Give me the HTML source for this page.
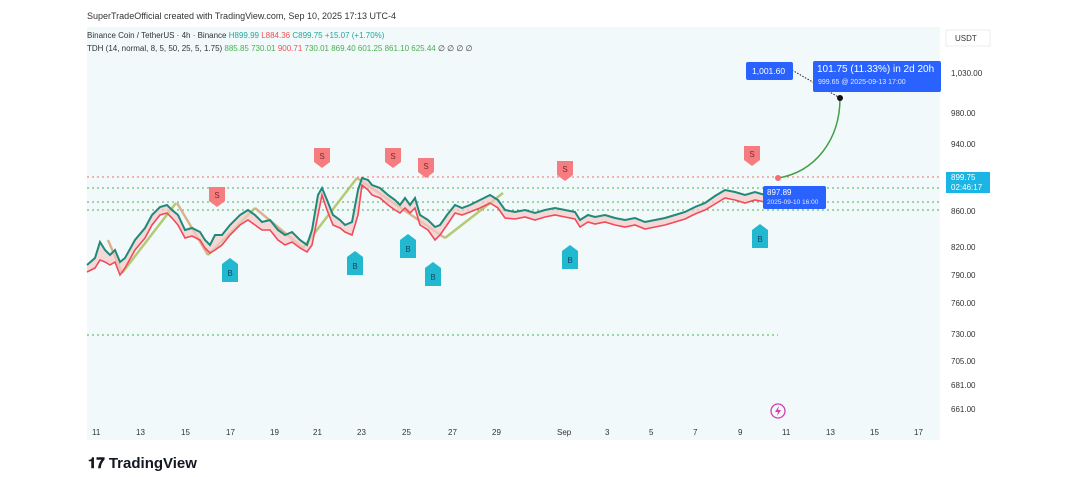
<!DOCTYPE html><html><head><meta charset="utf-8"><style>
body{margin:0;width:1080px;height:477px;background:#fff;font-family:"Liberation Sans",sans-serif;overflow:hidden;position:relative}
.t{position:absolute;white-space:nowrap}
</style></head><body>
<div class="t" style="left:87px;top:11px;font-size:9px;color:#333">SuperTradeOfficial created with TradingView.com, Sep 10, 2025 17:13 UTC-4</div>
<svg width="1080" height="477" style="position:absolute;left:0;top:0">
<rect x="87" y="27" width="907" height="413" fill="#f1f9fb"/>
<rect x="940" y="27" width="54" height="413" fill="#fff"/>
<g stroke-dasharray="2,3" stroke-width="1">
<line x1="87" y1="177" x2="940" y2="177" stroke="#f26d6d"/>
<line x1="87" y1="188" x2="940" y2="188" stroke="#4caf50"/>
<line x1="87" y1="202" x2="940" y2="202" stroke="#4caf50"/>
<line x1="87" y1="210" x2="940" y2="210" stroke="#4caf50"/>
<line x1="87" y1="335" x2="778" y2="335" stroke="#4caf50"/>
</g>
<polyline fill="none" stroke="#a9c25a" stroke-width="2.5" opacity=".85" points="122,273 176,203"/>
<polyline fill="none" stroke="#d4a77a" stroke-width="2.5" opacity=".85" points="108,240 122,273"/>
<polyline fill="none" stroke="#d4a77a" stroke-width="2.5" opacity=".85" points="177,203 208,255"/>
<polyline fill="none" stroke="#a9c25a" stroke-width="2.5" opacity=".85" points="208,255 255,208"/>
<polyline fill="none" stroke="#d4a77a" stroke-width="2.5" opacity=".85" points="255,208 303,248"/>
<polyline fill="none" stroke="#a9c25a" stroke-width="2.5" opacity=".85" points="303,248 357,178"/>
<polyline fill="none" stroke="#d4a77a" stroke-width="2.5" opacity=".85" points="357,178 445,238"/>
<polyline fill="none" stroke="#a9c25a" stroke-width="2.5" opacity=".85" points="445,238 503,193"/>
<polygon fill="#f7c9c9" opacity=".7" points="87,265 95,258 100,242 105,250 110,255 115,250 120,262 125,258 135,240 145,228 152,215 160,207 167,205 172,210 178,215 185,230 192,228 200,232 205,240 210,245 215,235 222,235 230,225 240,215 248,210 255,215 262,222 270,220 278,230 285,235 292,232 300,240 307,245 312,230 318,195 322,188 327,200 333,215 340,220 345,225 352,222 358,190 362,178 368,180 372,185 380,188 388,195 395,200 400,205 405,198 410,205 415,198 420,215 428,220 435,227 440,225 447,215 455,205 462,208 470,205 480,200 490,195 498,200 505,210 515,212 525,210 535,213 545,210 555,208 565,210 575,212 580,220 588,215 595,217 605,215 615,218 625,220 635,218 645,222 655,220 665,218 675,215 685,212 695,207 705,203 715,196 725,190 735,192 745,195 755,192 765,195 775,190 775,197 765,202 755,200 745,203 735,200 725,198 715,204 705,210 695,214 685,219 675,222 665,225 655,227 645,229 635,225 625,227 615,225 605,222 595,224 588,222 580,227 575,219 565,217 555,215 545,217 535,220 525,217 515,219 505,218 498,208 490,203 480,208 470,212 462,215 455,213 447,225 440,235 435,240 428,230 420,225 415,208 410,213 405,208 400,213 395,210 388,205 380,198 372,195 368,190 362,185 358,215 352,235 345,232 340,228 333,225 327,210 322,195 318,215 312,245 307,252 300,248 292,242 285,245 278,240 270,230 262,230 255,225 248,220 240,225 230,235 222,245 215,250 210,253 205,248 200,240 192,236 185,238 178,225 172,218 167,213 160,215 152,225 145,238 135,250 125,268 120,275 115,262 110,265 105,262 100,260 95,268 87,272"/>
<polyline fill="none" stroke="#1d8a7a" stroke-width="2" points="87,265 95,258 100,242 105,250 110,255 115,250 120,262 125,258 135,240 145,228 152,215 160,207 167,205 172,210 178,215 185,230 192,228 200,232 205,240 210,245 215,235 222,235 230,225 240,215 248,210 255,215 262,222 270,220 278,230 285,235 292,232 300,240 307,245 312,230 318,195 322,188 327,200 333,215 340,220 345,225 352,222 358,190 362,178 368,180 372,185 380,188 388,195 395,200 400,205 405,198 410,205 415,198 420,215 428,220 435,227 440,225 447,215 455,205 462,208 470,205 480,200 490,195 498,200 505,210 515,212 525,210 535,213 545,210 555,208 565,210 575,212 580,220 588,215 595,217 605,215 615,218 625,220 635,218 645,222 655,220 665,218 675,215 685,212 695,207 705,203 715,196 725,190 735,192 745,195 755,192 765,195 775,190"/>
<polyline fill="none" stroke="#ef4b5b" stroke-width="1.6" points="87,272 95,268 100,260 105,262 110,265 115,262 120,275 125,268 135,250 145,238 152,225 160,215 167,213 172,218 178,225 185,238 192,236 200,240 205,248 210,253 215,250 222,245 230,235 240,225 248,220 255,225 262,230 270,230 278,240 285,245 292,242 300,248 307,252 312,245 318,215 322,195 327,210 333,225 340,228 345,232 352,235 358,215 362,185 368,190 372,195 380,198 388,205 395,210 400,213 405,208 410,213 415,208 420,225 428,230 435,240 440,235 447,225 455,213 462,215 470,212 480,208 490,203 498,208 505,218 515,219 525,217 535,220 545,217 555,215 565,217 575,219 580,227 588,222 595,224 605,222 615,225 625,227 635,225 645,229 655,227 665,225 675,222 685,219 695,214 705,210 715,204 725,198 735,200 745,203 755,200 765,202 775,197"/>
<path d="M778,178 C815,172 840,140 840,98" fill="none" stroke="#43a047" stroke-width="1.5"/>
<line x1="792" y1="70" x2="840" y2="98" stroke="#222" stroke-dasharray="1.5,1.5"/>
<circle cx="778" cy="178" r="3" fill="#f26d6d"/><circle cx="840" cy="98" r="3" fill="#111"/>
<g font-size="8" fill="#7a2a2a" text-anchor="middle">
<g fill="#f77c80"><path d="M314,148h16v14l-8,6l-8,-6z"/><path d="M385,148h16v14l-8,6l-8,-6z"/><path d="M418,158h16v14l-8,6l-8,-6z"/><path d="M209,187h16v14l-8,6l-8,-6z"/><path d="M557,161h16v14l-8,6l-8,-6z"/><path d="M744,146h16v14l-8,6l-8,-6z"/></g>
<text x="322" y="159">S</text><text x="393" y="159">S</text><text x="426" y="169">S</text><text x="217" y="198">S</text><text x="565" y="172">S</text><text x="752" y="157">S</text>
</g>
<g font-size="8" fill="#0d4a6a" text-anchor="middle">
<g fill="#22b8cf"><path d="M222,264l8,-6l8,6v18h-16z"/><path d="M347,257l8,-6l8,6v18h-16z"/><path d="M400,240l8,-6l8,6v18h-16z"/><path d="M425,268l8,-6l8,6v18h-16z"/><path d="M562,251l8,-6l8,6v18h-16z"/><path d="M752,230l8,-6l8,6v18h-16z"/></g>
<text x="230" y="276">B</text><text x="355" y="269">B</text><text x="408" y="252">B</text><text x="433" y="280">B</text><text x="570" y="263">B</text><text x="760" y="242">B</text>
</g>
<rect x="746" y="62" width="47" height="18" rx="2" fill="#2962ff"/>
<rect x="813" y="61" width="128" height="31" rx="2" fill="#2962ff"/>
<rect x="763" y="186" width="63" height="23" rx="2" fill="#2962ff"/>
<rect x="946" y="30" width="44" height="16" fill="#fff" stroke="#eee"/>
<rect x="946" y="172" width="44" height="21" fill="#1ab5e5"/>
<circle cx="778" cy="411" r="7" fill="none" stroke="#d63cb1" stroke-width="1.3"/>
<path d="M779,406 l-4,6 h3 l-1,4 l4,-6 h-3z" fill="#d63cb1"/>
</svg>
<div class="t" style="left:87px;top:31px;font-size:8px;color:#333">Binance Coin / TetherUS · 4h · Binance <span style="color:#26a69a">H899.99</span> <span style="color:#ef5350">L884.36</span> <span style="color:#26a69a">C899.75 +15.07 (+1.70%)</span></div>
<div class="t" style="left:87px;top:44px;font-size:8px;color:#333">TDH (14, normal, 8, 5, 50, 25, 5, 1.75) <span style="color:#4caf50">885.85 730.01</span> <span style="color:#ef5350">900.71</span> <span style="color:#4caf50">730.01 869.40 601.25 861.10 625.44</span> ∅ ∅ ∅ ∅</div>
<div class="t" style="left:752px;top:66px;font-size:8.5px;color:#fff">1,001.60</div>
<div class="t" style="left:817px;top:64px;font-size:10px;color:#fff">101.75 (11.33%) in 2d 20h</div>
<div class="t" style="left:818px;top:79px;font-size:7px;color:#dfe7ff">999.65 @ 2025-09-13 17:00</div>
<div class="t" style="left:767px;top:188px;font-size:8px;color:#fff">897.89</div>
<div class="t" style="left:767px;top:199px;font-size:6.5px;color:#dfe7ff">2025-09-10 16:00</div>
<div class="t" style="left:955px;top:34px;font-size:8px;color:#333">USDT</div>
<div class="t" style="left:951px;top:173px;font-size:8px;color:#fff;line-height:10px">899.75<br>02:46:17</div>
<div style="position:absolute;left:951px;top:0;font-size:8px;color:#333;line-height:1">
<div class="t" style="top:70px">1,030.00</div><div class="t" style="top:110px">980.00</div><div class="t" style="top:141px">940.00</div><div class="t" style="top:208px">860.00</div><div class="t" style="top:244px">820.00</div><div class="t" style="top:272px">790.00</div><div class="t" style="top:300px">760.00</div><div class="t" style="top:331px">730.00</div><div class="t" style="top:358px">705.00</div><div class="t" style="top:382px">681.00</div><div class="t" style="top:406px">661.00</div></div>
<div style="position:absolute;left:0;top:428px;font-size:8px;color:#333">
<div class="t" style="left:92px">11</div><div class="t" style="left:136px">13</div><div class="t" style="left:181px">15</div><div class="t" style="left:226px">17</div><div class="t" style="left:270px">19</div><div class="t" style="left:313px">21</div><div class="t" style="left:357px">23</div><div class="t" style="left:402px">25</div><div class="t" style="left:448px">27</div><div class="t" style="left:492px">29</div><div class="t" style="left:557px">Sep</div><div class="t" style="left:605px">3</div><div class="t" style="left:649px">5</div><div class="t" style="left:693px">7</div><div class="t" style="left:738px">9</div><div class="t" style="left:782px">11</div><div class="t" style="left:826px">13</div><div class="t" style="left:870px">15</div><div class="t" style="left:914px">17</div></div>
<div class="t" style="left:88px;top:455px;font-size:15px;font-weight:bold;color:#131722">𝟏𝟕 TradingView</div>
</body></html>
